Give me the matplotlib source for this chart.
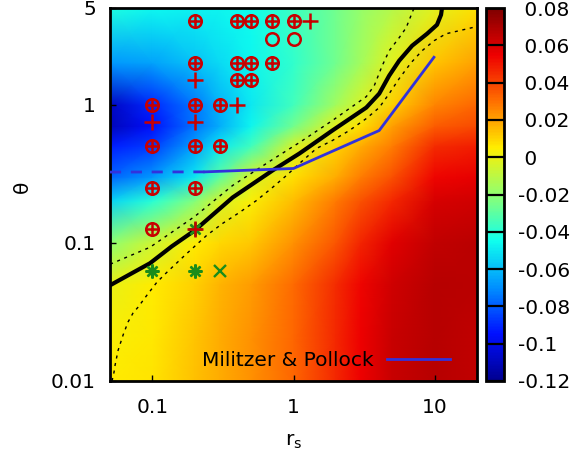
import numpy as np
import matplotlib
matplotlib.use("Agg")
import matplotlib.pyplot as plt
from matplotlib.colors import LinearSegmentedColormap

# ---------------- data ----------------
rs_grid = [0.05, 0.1, 0.2, 0.3, 0.5, 1, 2, 3, 5, 10, 20]
theta_grid = [0.01, 0.02, 0.05, 0.1, 0.2, 0.3, 0.5, 0.7, 1, 2, 5]
# relative difference, rows follow theta_grid, columns follow rs_grid
rel_diff = [
    [0.005, 0.007, 0.014, 0.018, 0.023, 0.032, 0.046, 0.055, 0.063, 0.067, 0.065],
    [0.004, 0.0065, 0.0135, 0.018, 0.023, 0.032, 0.046, 0.055, 0.063, 0.067, 0.065],
    [0.000, 0.005, 0.011, 0.016, 0.021, 0.031, 0.045, 0.054, 0.062, 0.067, 0.066],
    [-0.020, -0.006, 0.005, 0.009, 0.0125, 0.023, 0.036, 0.047, 0.058, 0.065, 0.066],
    [-0.055, -0.040, -0.022, -0.004, 0.004, 0.015, 0.028, 0.037, 0.046, 0.060, 0.062],
    [-0.078, -0.068, -0.050, -0.030, -0.004, 0.008, 0.018, 0.027, 0.037, 0.054, 0.056],
    [-0.092, -0.086, -0.066, -0.050, -0.035, -0.004, 0.010, 0.018, 0.027, 0.045, 0.048],
    [-0.110, -0.095, -0.075, -0.063, -0.047, -0.026, -0.001, 0.008, 0.020, 0.034, 0.038],
    [-0.108, -0.090, -0.074, -0.062, -0.050, -0.035, -0.016, -0.004, 0.011, 0.026, 0.032],
    [-0.068, -0.066, -0.059, -0.053, -0.047, -0.038, -0.026, -0.016, -0.002, 0.013, 0.020],
    [-0.042, -0.046, -0.048, -0.047, -0.045, -0.036, -0.026, -0.019, -0.012, -0.002, 0.008],
]

zero_rs = [0.0501, 0.0693, 0.0960, 0.1374, 0.1998, 0.3706, 0.7106, 1.102, 1.886, 3.281,
           4.053, 4.769, 5.612, 6.934, 8.85, 10.41, 11.12, 11.30]
zero_theta = [0.0493, 0.0592, 0.0711, 0.0944, 0.1231, 0.2130, 0.3338, 0.4428, 0.6492,
              0.9513, 1.200, 1.620, 2.078, 2.667, 3.255, 3.781, 4.465, 5.016]

upper_rs = [0.0501, 0.0960, 0.1998, 0.3706, 0.7106, 1.102, 1.886, 3.281, 3.737,
            4.256, 4.769, 5.612, 6.289, 6.934, 7.165]
upper_theta = [0.0700, 0.0928, 0.1553, 0.2602, 0.4008, 0.5315, 0.7666, 1.142, 1.371,
               1.912, 2.454, 3.046, 3.597, 4.617, 5.016]

lower_rs = [0.0517, 0.0534, 0.0543, 0.0571, 0.0619, 0.0671, 0.0728, 0.0790, 0.0914,
            0.1076, 0.1266, 0.1697, 0.2427, 0.3150, 0.4153, 0.5477, 0.7106, 0.8924,
            1.102, 1.454, 1.886, 2.488, 3.281, 4.053, 4.769, 5.612, 6.823, 8.159,
            9.920, 12.06, 14.90, 19.65]
lower_theta = [0.0100, 0.0116, 0.0130, 0.0167, 0.0215, 0.0267, 0.0310, 0.0342, 0.0418,
               0.0519, 0.0612, 0.0812, 0.1133, 0.1383, 0.1661, 0.2027, 0.2517, 0.3072,
               0.3750, 0.4813, 0.5496, 0.6492, 0.7924, 0.9513, 1.200, 1.541, 2.011, 2.454,
               2.898, 3.255, 3.422, 3.658]

mp_ext_rs = [0.05, 0.235]
mp_ext_theta = [0.325, 0.326]
mp_rs = [0.235, 1.0, 4.05, 9.9]
mp_theta = [0.326, 0.345, 0.649, 2.2]

oplus_rs = [0.2, 0.4, 0.5, 0.7, 1.0, 0.2, 0.4, 0.5, 0.7, 0.4, 0.5,
            0.1, 0.2, 0.3, 0.1, 0.2, 0.3, 0.1, 0.2, 0.1]
oplus_theta = [4, 4, 4, 4, 4, 2, 2, 2, 2, 1.5, 1.5,
               1, 1, 1, 0.5, 0.5, 0.5, 0.25, 0.25, 0.125]
plus_rs = [1.3, 0.2, 0.4, 0.1, 0.2, 0.2]
plus_theta = [4, 1.5, 1, 0.75, 0.75, 0.125]
circle_rs = [0.7, 1.0]
circle_theta = [3, 3]
star_rs = [0.1, 0.2, 0.2]
star_theta = [0.0625, 0.0625, 0.125]
cross_rs = [0.3]
cross_theta = [0.0625]

x_ticks = [0.1, 1, 10]
x_labels = ["0.1", "1", "10"]
y_ticks = [0.01, 0.1, 1, 5]
y_labels = ["0.01", "0.1", "1", "5"]
cb_ticks = [-0.12, -0.10, -0.08, -0.06, -0.04, -0.02, 0.0, 0.02, 0.04, 0.06, 0.08]
cb_labels = ["-0.12", "-0.1", "-0.08", "-0.06", "-0.04", "-0.02",
             " 0", " 0.02", " 0.04", " 0.06", " 0.08"]

# ---------------- style ----------------
FS = 14.5
plt.rcParams["font.family"] = ["DejaVu Sans"]
plt.rcParams["font.size"] = FS

jet = LinearSegmentedColormap.from_list(
    "gpjet", ["#000090", "#000fff", "#0090ff", "#0fffee", "#90ff70",
              "#ffee00", "#ff7000", "#ee0000", "#7f0000"])

W, H = 588, 461
fig = plt.figure(figsize=(W / 100, H / 100), dpi=100)
L, R, T, B = 110, 477, 8, 381
ax = fig.add_axes([L / W, 1 - B / H, (R - L) / W, (B - T) / H])
cax = fig.add_axes([486 / W, 1 - B / H, 18 / W, (B - T) / H])

RS, TH = np.meshgrid(rs_grid, theta_grid)
mesh = ax.pcolormesh(RS, TH, np.array(rel_diff), shading="gouraud",
                     cmap=jet, vmin=-0.12, vmax=0.08, zorder=0)
ax.set_xscale("log")
ax.set_yscale("log")
ax.set_xlim(0.05, 20)
ax.set_ylim(0.01, 5)

dot_style = (0, (2.2, 3.3))
ax.plot(upper_rs, upper_theta, color="k", lw=1.0, ls=dot_style, zorder=2)
ax.plot(lower_rs, lower_theta, color="k", lw=1.0, ls=dot_style, zorder=2)
ax.plot(zero_rs, zero_theta, color="k", lw=3.0, zorder=3, solid_capstyle="butt",
        solid_joinstyle="round")

blue = "#3232dc"
ax.plot(mp_ext_rs, mp_ext_theta, color=blue, lw=2.0, ls=(0, (4, 3.5)), zorder=3)
mp_line, = ax.plot(mp_rs, mp_theta, color=blue, lw=2.0, zorder=3,
                   label="Militzer & Pollock")

red = "#c80000"
green = "#1a8c1a"
ax.plot(star_rs, star_theta, ls="none", marker=(8, 2, 0), ms=10, mew=1.7,
        color=green, zorder=4)
ax.plot(cross_rs, cross_theta, ls="none", marker="x", ms=8, mew=1.7,
        color=green, zorder=4)
ax.plot(oplus_rs, oplus_theta, ls="none", marker="o", ms=9, mew=1.8,
        mfc="none", mec=red, zorder=5)
ax.plot(oplus_rs, oplus_theta, ls="none", marker="+", ms=9.5, mew=1.8,
        color=red, zorder=5)
ax.plot(plus_rs, plus_theta, ls="none", marker="+", ms=11, mew=1.8,
        color=red, zorder=5)
ax.plot(circle_rs, circle_theta, ls="none", marker="o", ms=9, mew=1.8,
        mfc="none", mec=red, zorder=5)

ax.xaxis.set_minor_locator(matplotlib.ticker.NullLocator())
ax.yaxis.set_minor_locator(matplotlib.ticker.NullLocator())
ax.set_xticks(x_ticks)
ax.set_xticklabels(x_labels)
ax.set_yticks(y_ticks)
ax.set_yticklabels(y_labels)
ax.tick_params(axis="both", direction="in", length=4, width=1, labelsize=FS)
ax.tick_params(axis="x", pad=12)
ax.tick_params(axis="y", pad=10)
for s in ax.spines.values():
    s.set_linewidth(2)

leg = ax.legend(handles=[mp_line], loc="center right",
                bbox_to_anchor=(0.926, 0.056), frameon=False, markerfirst=False,
                handlelength=3.1, handletextpad=0.7, borderpad=0,
                borderaxespad=0, fontsize=FS)

cb = fig.colorbar(mesh, cax=cax)
cb.set_ticks(cb_ticks)
cb.set_ticklabels(cb_labels)
cb.ax.tick_params(length=0, pad=10, labelsize=FS)
cb.outline.set_linewidth(2)
for v in cb_ticks:
    cb.ax.axhline(v, color="k", lw=1.6)

fig.text(294 / W, 1 - 441 / H, r"r$_\mathregular{s}$", ha="center", va="center",
         fontsize=FS)
fig.text(22 / W, 1 - 187 / H, "θ", ha="center", va="center", rotation=90,
         fontsize=FS)

fig.savefig("out.png", dpi=100)
